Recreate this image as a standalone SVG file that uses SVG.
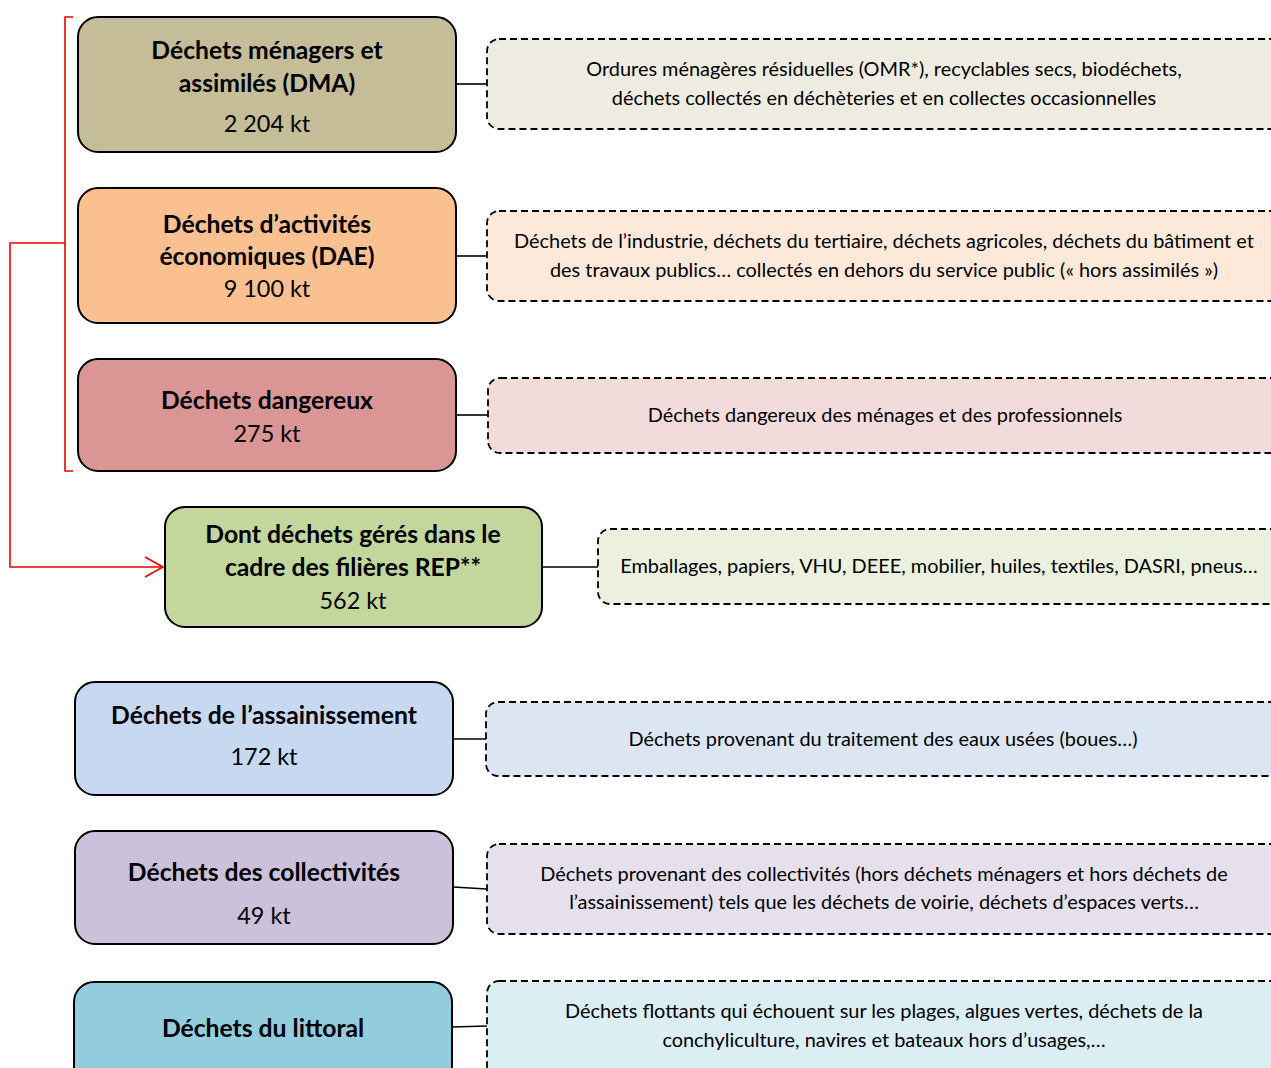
<svg xmlns="http://www.w3.org/2000/svg" width="1271" height="1068" viewBox="0 0 1271 1068">
<style>
.main{stroke:#000;stroke-width:2}
.desc{stroke:#000;stroke-width:1.8;stroke-dasharray:7 4}
.t{font-family:Lato,"Liberation Sans",sans-serif;text-anchor:middle;fill:#000}
.b{font-weight:bold;font-size:24.7px}
.n{font-size:23.4px}
.d{font-size:19.9px}
.conn{stroke:#000;stroke-width:1.6;fill:none}
.red{stroke:#e00;stroke-width:1.6;fill:none}
</style>
<defs>
<marker id="arr" markerWidth="22" markerHeight="24" refX="19" refY="11" orient="auto" markerUnits="userSpaceOnUse">
<path d="M1,1 L19,11 L1,21" fill="none" stroke="#e00" stroke-width="1.6"/>
</marker>
</defs>
<rect width="1271" height="1068" fill="#fff"/>
<g id="connectors">
<line class="conn" x1="456" y1="84" x2="487" y2="84"/>
<line class="conn" x1="456" y1="256" x2="487" y2="256"/>
<line class="conn" x1="456" y1="415" x2="488" y2="415"/>
<line class="conn" x1="542" y1="567" x2="598" y2="567"/>
<line class="conn" x1="453" y1="739" x2="486" y2="739"/>
<line class="conn" x1="453" y1="887" x2="487" y2="889"/>
<line class="conn" x1="452" y1="1027" x2="487" y2="1026"/>
<path class="red" d="M73,17 L65,17 L65,471 L73,471"/>
<path class="red" d="M65,243 L10,243 L10,567 L163,567" marker-end="url(#arr)"/>
</g>
<g id="dma">
<rect class="main" x="78" y="17" width="378" height="135" rx="20" fill="#c4bd97"/>
<text class="t b" x="267" y="59">Déchets ménagers et</text>
<text class="t b" x="267" y="92">assimilés (DMA)</text>
<text class="t n" x="267" y="132">2 204 kt</text>
</g>
<g id="dma-desc">
<rect class="desc" x="487" y="39" width="800" height="90" rx="12" fill="#eeece1"/>
<text class="t d" x="884" y="76">Ordures ménagères résiduelles (OMR*), recyclables secs, biodéchets,</text>
<text class="t d" x="884" y="105">déchets collectés en déchèteries et en collectes occasionnelles</text>
</g>
<g id="dae">
<rect class="main" x="78" y="188" width="378" height="135" rx="20" fill="#fac090"/>
<text class="t b" x="267" y="233">Déchets d’activités</text>
<text class="t b" x="267" y="265">économiques (DAE)</text>
<text class="t n" x="267" y="297">9 100 kt</text>
</g>
<g id="dae-desc">
<rect class="desc" x="487" y="211" width="800" height="90" rx="12" fill="#fde9d9"/>
<text class="t d" x="884" y="248">Déchets de l’industrie, déchets du tertiaire, déchets agricoles, déchets du bâtiment et</text>
<text class="t d" x="884" y="277">des travaux publics… collectés en dehors du service public (« hors assimilés »)</text>
</g>
<g id="dangereux">
<rect class="main" x="78" y="359" width="378" height="112" rx="20" fill="#d99694"/>
<text class="t b" x="267" y="409">Déchets dangereux</text>
<text class="t n" x="267" y="442">275 kt</text>
</g>
<g id="dangereux-desc">
<rect class="desc" x="488" y="378" width="800" height="75" rx="12" fill="#f2dcdb"/>
<text class="t d" x="885" y="422">Déchets dangereux des ménages et des professionnels</text>
</g>
<g id="rep">
<rect class="main" x="165" y="507" width="377" height="120" rx="20" fill="#c3d69b"/>
<text class="t b" x="353" y="543">Dont déchets gérés dans le</text>
<text class="t b" x="353" y="576">cadre des filières REP**</text>
<text class="t n" x="353" y="609">562 kt</text>
</g>
<g id="rep-desc">
<rect class="desc" x="598" y="529" width="700" height="75" rx="12" fill="#ebf1de"/>
<text class="t d" x="939" y="573">Emballages, papiers, VHU, DEEE, mobilier, huiles, textiles, DASRI, pneus…</text>
</g>
<g id="assainissement">
<rect class="main" x="75" y="682" width="378" height="113" rx="20" fill="#c6d9f1"/>
<text class="t b" x="264" y="724">Déchets de l’assainissement</text>
<text class="t n" x="264" y="765">172 kt</text>
</g>
<g id="assainissement-desc">
<rect class="desc" x="486" y="702" width="800" height="74" rx="12" fill="#dce6f2"/>
<text class="t d" x="883" y="746">Déchets provenant du traitement des eaux usées (boues…)</text>
</g>
<g id="collectivites">
<rect class="main" x="75" y="831" width="378" height="113" rx="20" fill="#ccc1da"/>
<text class="t b" x="264" y="881">Déchets des collectivités</text>
<text class="t n" x="264" y="924">49 kt</text>
</g>
<g id="collectivites-desc">
<rect class="desc" x="487" y="844" width="800" height="90" rx="12" fill="#e5e0ec"/>
<text class="t d" x="884" y="881">Déchets provenant des collectivités (hors déchets ménagers et hors déchets de</text>
<text class="t d" x="884" y="909">l’assainissement) tels que les déchets de voirie, déchets d’espaces verts…</text>
</g>
<g id="littoral">
<rect class="main" x="74" y="982" width="378" height="110" rx="20" fill="#93cddd"/>
<text class="t b" x="263" y="1037">Déchets du littoral</text>
</g>
<g id="littoral-desc">
<rect class="desc" x="487" y="981" width="800" height="110" rx="12" fill="#dbeef4"/>
<text class="t d" x="884" y="1018">Déchets flottants qui échouent sur les plages, algues vertes, déchets de la</text>
<text class="t d" x="884" y="1047">conchyliculture, navires et bateaux hors d’usages,…</text>
</g>
</svg>
